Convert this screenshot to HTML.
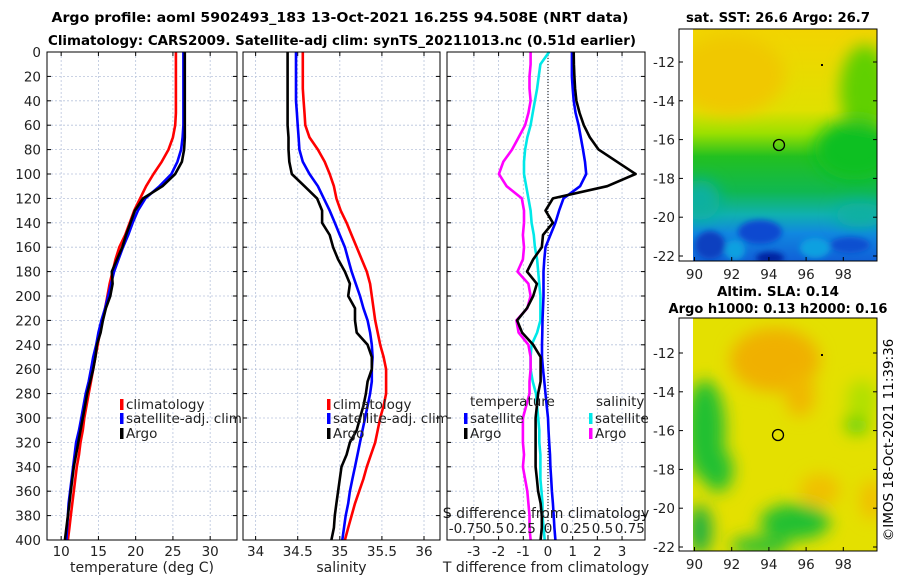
<!DOCTYPE html>
<html><head><meta charset="utf-8"><style>
body{margin:0;background:#fff;width:900px;height:580px;overflow:hidden}
svg{font-family:"DejaVu Sans","Liberation Sans",sans-serif}
</style></head><body>
<svg id="c" width="900" height="580" viewBox="0 0 900 580">
<defs>
<filter id="bl" x="-50%" y="-50%" width="200%" height="200%"><feGaussianBlur stdDeviation="8"/></filter>
<filter id="bl2" x="-50%" y="-50%" width="200%" height="200%"><feGaussianBlur stdDeviation="3"/></filter>
<linearGradient id="sstg" x1="0" y1="0" x2="0" y2="1">
<stop offset="0" stop-color="#f2d400"/><stop offset="0.35" stop-color="#e0e000"/><stop offset="0.45" stop-color="#9be000"/>
<stop offset="0.55" stop-color="#22c020"/><stop offset="0.7" stop-color="#10b850"/><stop offset="0.8" stop-color="#10b0b0"/>
<stop offset="0.88" stop-color="#1088e0"/><stop offset="1" stop-color="#1060d8"/></linearGradient>
<clipPath id="m1c"><rect x="693" y="29" width="184" height="232"/></clipPath>
<clipPath id="m2c"><rect x="693" y="318" width="184" height="233"/></clipPath>
</defs>
<text x="340" y="22" font-size="13.5" font-weight="bold" text-anchor="middle" textLength="577" lengthAdjust="spacingAndGlyphs">Argo profile: aoml 5902493_183 13-Oct-2021 16.25S 94.508E (NRT data)</text>
<text x="342" y="45" font-size="13.5" font-weight="bold" text-anchor="middle" textLength="588" lengthAdjust="spacingAndGlyphs">Climatology: CARS2009. Satellite-adj clim: synTS_20211013.nc (0.51d earlier)</text>
<g id="panels"></g>
<!-- map 1 -->
<g>
<text x="778" y="22" font-size="13.5" font-weight="bold" text-anchor="middle" textLength="184" lengthAdjust="spacingAndGlyphs">sat. SST: 26.6 Argo: 26.7</text>
<rect x="679" y="29" width="198" height="232" fill="#fff"/>
<g clip-path="url(#m1c)">
<rect x="693" y="29" width="184" height="232" fill="url(#sstg)"/>
<g filter="url(#bl)">
<ellipse cx="730" cy="75" rx="55" ry="40" fill="#f0c800"/>
<ellipse cx="865" cy="90" rx="25" ry="45" fill="#60d000"/>
<ellipse cx="855" cy="150" rx="40" ry="30" fill="#10c020"/>
<ellipse cx="700" cy="200" rx="20" ry="20" fill="#10b0a0"/>
<ellipse cx="860" cy="215" rx="25" ry="12" fill="#10b0a0"/>
</g>
<g filter="url(#bl2)">
<ellipse cx="710" cy="245" rx="15" ry="14" fill="#0840c0"/>
<ellipse cx="760" cy="232" rx="22" ry="12" fill="#0848d0"/>
<ellipse cx="770" cy="258" rx="14" ry="6" fill="#0020a0"/>
<ellipse cx="850" cy="245" rx="20" ry="8" fill="#1050d0"/>
<ellipse cx="735" cy="250" rx="10" ry="10" fill="#10a0e0"/>
<ellipse cx="815" cy="248" rx="15" ry="10" fill="#10a0e0"/>
</g></g>
<rect x="679" y="29" width="198" height="232" fill="none" stroke="#000"/>
<circle cx="779" cy="145" r="5.5" fill="none" stroke="#000" stroke-width="1.3"/>
<rect x="821" y="64" width="2" height="2" fill="#000"/>
</g>
<!-- map 2 -->
<g>
<text x="778" y="296" font-size="13.5" font-weight="bold" text-anchor="middle" textLength="122" lengthAdjust="spacingAndGlyphs">Altim. SLA: 0.14</text>
<text x="778" y="313" font-size="13.5" font-weight="bold" text-anchor="middle" textLength="219" lengthAdjust="spacingAndGlyphs">Argo h1000: 0.13 h2000: 0.16</text>
<rect x="679" y="318" width="198" height="233" fill="#fff"/>
<g clip-path="url(#m2c)">
<rect x="693" y="318" width="184" height="233" fill="#e4e000"/>
<g filter="url(#bl)">
<ellipse cx="775" cy="360" rx="45" ry="32" fill="#f0b000"/>
<ellipse cx="800" cy="395" rx="15" ry="22" fill="#f0b800"/>
<ellipse cx="705" cy="430" rx="20" ry="50" fill="#20c030"/>
<ellipse cx="718" cy="470" rx="15" ry="22" fill="#20c030"/>
<ellipse cx="795" cy="522" rx="35" ry="18" fill="#20c030"/>
<ellipse cx="760" cy="546" rx="30" ry="10" fill="#30c030"/>
<ellipse cx="857" cy="424" rx="12" ry="10" fill="#50d010"/>
<ellipse cx="862" cy="400" rx="15" ry="20" fill="#b0e000"/>
<ellipse cx="820" cy="490" rx="20" ry="16" fill="#f0c000"/>
<ellipse cx="872" cy="500" rx="12" ry="20" fill="#f0c000"/>
<ellipse cx="700" cy="530" rx="12" ry="25" fill="#20b040"/>
</g></g>
<rect x="679" y="318" width="198" height="233" fill="none" stroke="#000"/>
<circle cx="778" cy="435" r="5.5" fill="none" stroke="#000" stroke-width="1.3"/>
<rect x="821" y="354" width="2" height="2" fill="#000"/>
</g>
<text transform="translate(893,440) rotate(-90)" font-size="13.5" text-anchor="middle">©IMOS 18-Oct-2021 11:39:36</text>
<g id="mapaxes"></g>
</svg>
<script>
// ---- data (depth every 10 m, 0..400) ----
const depths = [0,10,20,30,40,50,60,70,80,90,100,110,120,130,140,150,160,170,180,190,200,210,220,230,240,250,260,270,280,290,300,310,320,330,340,350,360,370,380,390,400];
const tempClim = [25.4,25.4,25.4,25.4,25.4,25.4,25.3,25.0,24.4,23.5,22.4,21.4,20.6,19.8,19.2,18.6,17.8,17.3,16.9,16.5,16.2,15.9,15.5,15.2,14.9,14.6,14.3,14.0,13.7,13.4,13.1,12.9,12.6,12.4,12.1,11.9,11.7,11.5,11.3,11.1,10.9];
const tempSat = [26.4,26.4,26.4,26.4,26.4,26.4,26.4,26.3,26.1,25.6,24.8,23.2,21.3,20.3,19.6,19.0,18.3,17.7,17.1,16.7,16.3,15.9,15.4,15.0,14.7,14.3,14.0,13.7,13.3,13.0,12.7,12.4,12.0,11.8,11.6,11.4,11.2,11.0,10.9,10.8,10.7];
const tempArgo = [26.6,26.6,26.6,26.6,26.6,26.6,26.6,26.6,26.5,26.2,25.3,23.6,21.0,19.9,19.3,18.7,18.2,17.5,16.8,16.9,16.6,16.0,15.6,15.3,14.8,14.6,14.3,13.9,13.5,13.2,12.9,12.6,12.3,12.0,11.7,11.5,11.3,11.1,10.9,10.7,10.5];
const salClim = [34.56,34.56,34.56,34.56,34.57,34.58,34.59,34.64,34.74,34.82,34.88,34.93,34.96,35.01,35.08,35.14,35.20,35.26,35.32,35.36,35.38,35.40,35.42,35.45,35.48,35.52,35.55,35.55,35.55,35.52,35.48,35.45,35.42,35.37,35.32,35.28,35.23,35.18,35.14,35.10,35.06];
const salSat = [34.48,34.48,34.48,34.48,34.48,34.49,34.50,34.51,34.52,34.56,34.64,34.74,34.81,34.88,34.94,35.00,35.06,35.10,35.14,35.19,35.24,35.28,35.33,35.36,35.38,35.39,35.38,35.38,35.36,35.33,35.30,35.27,35.24,35.21,35.18,35.15,35.12,35.10,35.07,35.05,35.03];
const salArgo = [34.38,34.38,34.38,34.38,34.38,34.38,34.38,34.39,34.39,34.40,34.43,34.58,34.73,34.79,34.79,34.88,34.92,34.98,35.06,35.12,35.10,35.18,35.18,35.20,35.33,35.38,35.38,35.33,35.31,35.28,35.24,35.20,35.12,35.08,35.02,35.00,34.98,34.96,34.94,34.93,34.90];
// difference-from-climatology profiles (panel 3)
const dTempSat = [0.97,0.97,0.97,1.0,1.04,1.12,1.24,1.33,1.42,1.5,1.55,1.3,0.63,0.45,0.3,0.1,-0.1,-0.15,-0.18,-0.18,-0.18,-0.2,-0.22,-0.23,-0.24,-0.24,-0.2,-0.15,-0.1,-0.05,0,0.02,0.05,0.08,0.1,0.13,0.16,0.2,0.23,0.26,0.3];
const dTempArgo = [1.04,1.05,1.07,1.1,1.15,1.28,1.45,1.7,2.05,2.8,3.55,2.4,0.2,-0.1,0.2,-0.2,-0.25,-0.6,-0.85,-0.45,-0.6,-0.85,-1.25,-1.05,-0.6,-0.3,-0.3,-0.3,-0.4,-0.45,-0.5,-0.5,-0.5,-0.5,-0.5,-0.45,-0.4,-0.3,-0.25,-0.25,-0.3];
const dSalSat = [0.01,-0.07,-0.085,-0.1,-0.12,-0.14,-0.16,-0.19,-0.21,-0.22,-0.22,-0.2,-0.18,-0.16,-0.15,-0.13,-0.12,-0.1,-0.09,-0.08,-0.07,-0.07,-0.07,-0.1,-0.15,-0.16,-0.16,-0.14,-0.11,-0.1,-0.09,-0.08,-0.08,-0.07,-0.07,-0.07,-0.06,-0.05,-0.05,-0.04,-0.03];
const dSalArgo = [-0.16,-0.16,-0.17,-0.17,-0.16,-0.18,-0.21,-0.27,-0.33,-0.41,-0.45,-0.38,-0.24,-0.22,-0.22,-0.23,-0.22,-0.23,-0.28,-0.18,-0.16,-0.19,-0.29,-0.27,-0.18,-0.16,-0.16,-0.17,-0.17,-0.2,-0.23,-0.23,-0.23,-0.22,-0.23,-0.21,-0.19,-0.18,-0.17,-0.17,-0.16];
const tTicks = [10,15,20,25,30];
const sTicks = [34,34.5,35,35.5,36];
const dTicks = [0,20,40,60,80,100,120,140,160,180,200,220,240,260,280,300,320,340,360,380,400];
const dTTicks = [-3,-2,-1,0,1,2,3];
const dSTicks = [-0.75,-0.5,-0.25,0,0.25,0.5,0.75];
const dSLabels = ["-0.75","0.5","0.25","0","0.25","0.5","0.75"];
const latTicks = [-12,-14,-16,-18,-20,-22];
const lonTicks = [90,92,94,96,98];

const NS="http://www.w3.org/2000/svg";
const root=document.getElementById('panels');
function mk(tag,attrs,parent){const e=document.createElementNS(NS,tag);for(const k in attrs)e.setAttribute(k,attrs[k]);(parent||root).appendChild(e);return e;}
const yTop=52,yBot=540;
function yD(d){return yTop+(d/400)*(yBot-yTop);}
const P=[
 {x0:47,x1:237,min:8.1,max:33.6,ticks:tTicks,lab:"temperature (deg C)"},
 {x0:243,x1:440,min:33.85,max:36.19,ticks:sTicks,lab:"salinity"},
 {x0:447,x1:645,min:-4.09,max:3.93,ticks:dTTicks,lab:"T difference from climatology"}
];
function xf(p,v){return p.x0+(v-p.min)/(p.max-p.min)*(p.x1-p.x0);}
const sx=v=>548+v*109;
P.forEach((p,i)=>{
  const g=mk('g',{});
  
  
  mk('rect',{x:p.x0,y:yTop,width:p.x1-p.x0,height:yBot-yTop,fill:'#fff'},g);
  dTicks.forEach(d=>{
    mk('line',{x1:p.x0,x2:p.x1,y1:yD(d),y2:yD(d),stroke:'#b8c4dc','stroke-dasharray':'2,2','stroke-width':0.8},g);
    mk('line',{x1:p.x0,x2:p.x0+4,y1:yD(d),y2:yD(d),stroke:'#000'},g);
    mk('line',{x1:p.x1,x2:p.x1-4,y1:yD(d),y2:yD(d),stroke:'#000'},g);
    if(i==0){const t=mk('text',{x:p.x0-6,y:yD(d)+5,'font-size':13.5,'text-anchor':'end',fill:'#222'},g);t.textContent=d;
      
      }
  });
  p.ticks.forEach(v=>{
    const x=xf(p,v);
    mk('line',{x1:x,x2:x,y1:yTop,y2:yBot,stroke:'#b8c4dc','stroke-dasharray':'2,2','stroke-width':0.8},g);
    mk('line',{x1:x,x2:x,y1:yBot,y2:yBot-4,stroke:'#000'},g);
    mk('line',{x1:x,x2:x,y1:yTop,y2:yTop+4,stroke:'#000'},g);
    const t=mk('text',{x:x,y:yBot+16,'font-size':13.5,'text-anchor':'middle',fill:'#222'},g);t.textContent=v;
    
    
  });
  const at=mk('text',{x:(p.x0+p.x1)/2,y:572,'font-size':14,'text-anchor':'middle',fill:'#222'},g);at.textContent=p.lab;
  
  
  p.g=g;
});
function line(p,xs,color,name,g,fx){
  const pts=depths.map((d,k)=>(fx?fx(xs[k]):xf(p,xs[k])).toFixed(1)+','+yD(d).toFixed(1)).join(' ');
  const e=mk('polyline',{points:pts,fill:'none',stroke:color,'stroke-width':2.6,'stroke-linejoin':'round'},g);
  
  
}
line(P[0],tempClim,'#ff0000','temp-climatology-line',P[0].g);
line(P[0],tempSat,'#0000ff','temp-satellite-line',P[0].g);
line(P[0],tempArgo,'#000','temp-argo-line',P[0].g);
line(P[1],salClim,'#ff0000','sal-climatology-line',P[1].g);
line(P[1],salSat,'#0000ff','sal-satellite-line',P[1].g);
line(P[1],salArgo,'#000','sal-argo-line',P[1].g);
const g3=P[2].g;
mk('line',{x1:548,x2:548,y1:yTop,y2:yBot,stroke:'#000','stroke-dasharray':'1,2'},g3);
line(P[2],dSalSat,'#00e8e8','sal-diff-satellite-line',g3,sx);
line(P[2],dSalArgo,'#ff00ff','sal-diff-argo-line',g3,sx);
line(P[2],dTempSat,'#0000ff','temp-diff-satellite-line',g3);
line(P[2],dTempArgo,'#000','temp-diff-argo-line',g3);
const st=mk('text',{x:546,y:518,'font-size':14,'text-anchor':'middle',fill:'#222'},g3);st.textContent='S difference from climatology';


dSTicks.forEach((v,k)=>{const t=mk('text',{x:sx(v),y:533,'font-size':13.5,'text-anchor':'middle',fill:'#222'},g3);t.textContent=dSLabels[k];
  
  });
P.forEach(p=>mk('rect',{x:p.x0,y:yTop,width:p.x1-p.x0,height:yBot-yTop,fill:'none',stroke:'#000','stroke-width':1},p.g));
function leg(g,x,y,color,txt,name){
  mk('rect',{x:x,y:y-10,width:3.5,height:11,fill:color},g);
  const t=mk('text',{x:x+6,y:y,'font-size':13.5,fill:'#222'},g);t.textContent=txt;
  
  
}
[0,1].forEach(i=>{const x=i?327:120;
  leg(P[i].g,x,409,'#ff0000','climatology','legend-climatology');
  leg(P[i].g,x,423,'#0000ff','satellite-adj. clim','legend-satellite');
  leg(P[i].g,x,438,'#000','Argo','legend-argo');});
const lt=mk('text',{x:470,y:406,'font-size':13.5,fill:'#222'},g3);lt.textContent='temperature';


const ls=mk('text',{x:596,y:406,'font-size':13.5,fill:'#222'},g3);ls.textContent='salinity';


leg(g3,464,423,'#0000ff','satellite','legend-temp-satellite');
leg(g3,464,438,'#000','Argo','legend-temp-argo');
leg(g3,589,423,'#00e8e8','satellite','legend-sal-satellite');
leg(g3,589,438,'#ff00ff','Argo','legend-sal-argo');
const ma=document.getElementById('mapaxes');
[[29,261,62,256],[318,551,353,547]].forEach((m,mi)=>{
  const lat=v=>m[2]+(v+12)/(-10)*(m[3]-m[2]);
  latTicks.forEach(v=>{const y=lat(v);
    mk('line',{x1:679,x2:683,y1:y,y2:y,stroke:'#000'},ma);
    mk('line',{x1:877,x2:873,y1:y,y2:y,stroke:'#000'},ma);
    const t=mk('text',{x:675,y:y+5,'font-size':13.5,'text-anchor':'end',fill:'#222'},ma);t.textContent=v;
    
    });
  lonTicks.forEach(v=>{const x=694.5+(v-90)*18.6;
    mk('line',{x1:x,x2:x,y1:m[1],y2:m[1]-4,stroke:'#000'},ma);
    const t=mk('text',{x:x,y:m[1]+18,'font-size':13.5,'text-anchor':'middle',fill:'#222'},ma);t.textContent=v;
    
    });
});
</script>
</body></html>
